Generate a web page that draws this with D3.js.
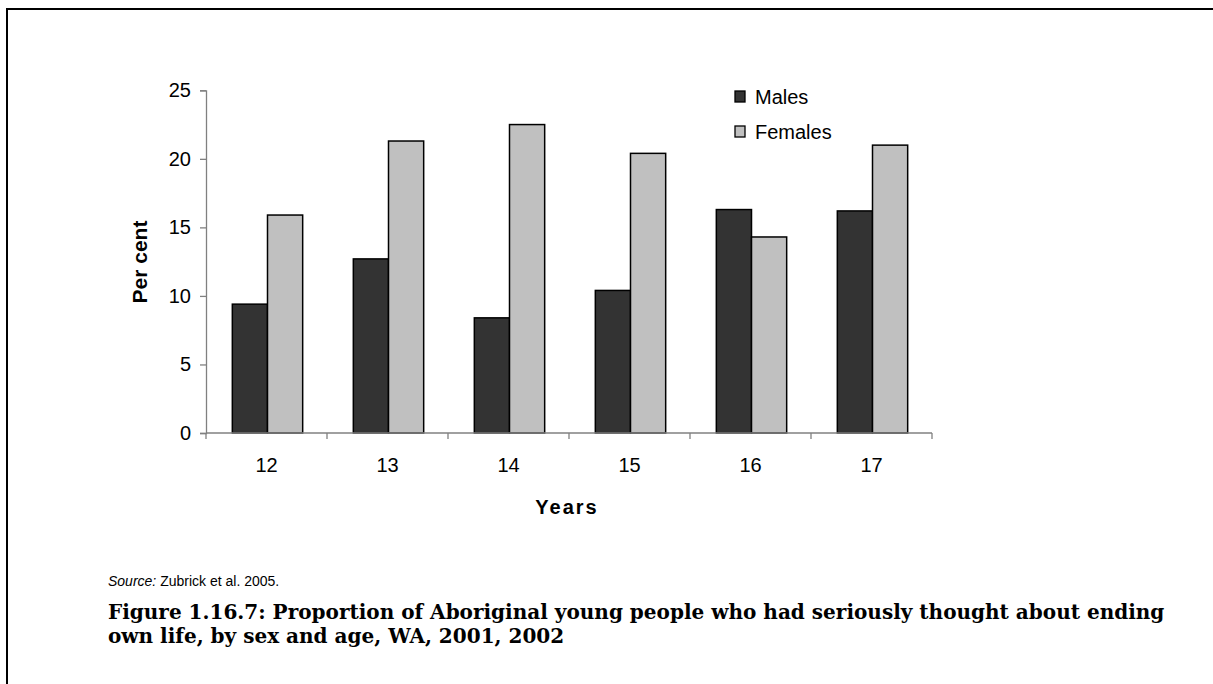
<!DOCTYPE html>
<html>
<head>
<meta charset="utf-8">
<script src="https://cdn.jsdelivr.net/npm/d3@7"></script>
<style>
  html, body { margin: 0; padding: 0; background: #fff; }
  svg { display: block; }
</style>
</head>
<body>
<svg id="chart" width="1213" height="684"></svg>
<script>
// Age groups and percentages by sex
const ages = ["12", "13", "14", "15", "16", "17"];
const males = [9.4, 12.7, 8.4, 10.4, 16.3, 16.2];
const females = [15.9, 21.3, 22.5, 20.4, 14.3, 21.0];
const seriesNames = ["Males", "Females"];
const seriesColors = ["#333333", "#c0c0c0"];
const yTicks = [0, 5, 10, 15, 20, 25];

const svg = d3.select("#chart");
const W = 1213, H = 684;

// Page frame (top and left rules)
svg.append("line").attr("x1", 6).attr("x2", W).attr("y1", 9).attr("y2", 9)
  .attr("stroke", "#000").attr("stroke-width", 2);
svg.append("line").attr("x1", 7).attr("x2", 7).attr("y1", 8).attr("y2", H)
  .attr("stroke", "#000").attr("stroke-width", 2);

const plot = { left: 206, right: 932, top: 90.3, bottom: 433 };

const x = d3.scaleBand().domain(ages).range([plot.left, plot.right]).paddingInner(0).paddingOuter(0);
const xInner = d3.scaleBand().domain(seriesNames).range([0, x.bandwidth()]).paddingInner(0).paddingOuter(0.72);
const y = d3.scaleLinear().domain([0, 25]).range([plot.bottom, plot.top]);

const axisColor = "#808080";
const font = "'Liberation Sans', Arial, sans-serif";

// Y axis
const yAxis = svg.append("g").attr("transform", `translate(${plot.left},0)`)
  .call(d3.axisLeft(y).tickValues(yTicks).tickSize(6).tickPadding(9));
yAxis.select(".domain").attr("stroke", axisColor).attr("stroke-width", 1.3);
yAxis.selectAll(".tick line").attr("stroke", axisColor).attr("stroke-width", 1.3);
yAxis.selectAll(".tick text").attr("font-family", font).attr("font-size", 20).attr("fill", "#000");

// Bars
const data = ages.map((a, i) => ({ age: a, values: [males[i], females[i]] }));
const groups = svg.append("g").selectAll("g").data(data).join("g")
  .attr("transform", d => `translate(${x(d.age) + 1},0)`);
groups.selectAll("rect").data(d => d.values.map((v, j) => ({ name: seriesNames[j], v, j })))
  .join("rect")
  .attr("x", d => xInner(d.name))
  .attr("width", xInner.bandwidth())
  .attr("y", d => y(d.v))
  .attr("height", d => y(0) - y(d.v))
  .attr("fill", d => seriesColors[d.j])
  .attr("stroke", "#000")
  .attr("stroke-width", 1.5);

// X axis: ticks at category boundaries
const xAxisG = svg.append("g").attr("transform", `translate(0,${plot.bottom})`);
xAxisG.append("line").attr("x1", plot.left).attr("x2", plot.right).attr("y1", 0).attr("y2", 0)
  .attr("stroke", axisColor).attr("stroke-width", 1.3);
const boundaries = ages.map(a => x(a)).concat([plot.right]);
xAxisG.selectAll("line.tk").data(boundaries).join("line").attr("class", "tk")
  .attr("x1", d => d).attr("x2", d => d).attr("y1", 0).attr("y2", 6)
  .attr("stroke", axisColor).attr("stroke-width", 1.3);
xAxisG.selectAll("text").data(ages).join("text")
  .attr("x", d => x(d) + x.bandwidth() / 2)
  .attr("y", 39)
  .attr("text-anchor", "middle")
  .attr("font-family", font).attr("font-size", 20).attr("fill", "#000")
  .text(d => d);

// Axis titles
svg.append("text")
  .attr("transform", `translate(147,262) rotate(-90)`)
  .attr("text-anchor", "middle")
  .attr("font-family", font).attr("font-size", 21).attr("font-weight", "bold")
  .text("Per cent");
svg.append("text")
  .attr("x", 567).attr("y", 514)
  .attr("text-anchor", "middle")
  .attr("font-family", font).attr("font-size", 20).attr("font-weight", "bold")
  .attr("letter-spacing", 2)
  .text("Years");

// Legend
const legend = svg.append("g").attr("transform", "translate(735,91)");
seriesNames.forEach((n, i) => {
  const g = legend.append("g").attr("transform", `translate(0,${i * 35})`);
  g.append("rect").attr("x", 0).attr("y", 0).attr("width", 10).attr("height", 11)
    .attr("fill", seriesColors[i]).attr("stroke", "#000").attr("stroke-width", 1.3);
  g.append("text").attr("x", 20).attr("y", 13)
    .attr("font-family", font).attr("font-size", 20).attr("fill", "#000").text(n);
});

// Source note
const src = svg.append("text").attr("x", 108).attr("y", 586)
  .attr("font-family", font).attr("font-size", 14).attr("fill", "#000");
src.append("tspan").attr("font-style", "italic").text("Source:");
src.append("tspan").text(" Zubrick et al. 2005.");

// Figure caption
const capLines = [
  "Figure 1.16.7: Proportion of Aboriginal young people who had seriously thought about ending",
  "own life, by sex and age, WA, 2001, 2002"
];
const capFont = "'DejaVu Serif', 'Liberation Serif', serif";
const cap = svg.append("g")
  .attr("font-family", capFont).attr("font-weight", "bold");
const line1 = cap.append("text").attr("x", 108).attr("y", 619)
  .attr("font-size", 20).text(capLines[0]);
// Size the caption so the first line spans the text block width
const targetW = 1057;
const w0 = line1.node().getComputedTextLength();
const capSize = 20 * targetW / w0;
line1.attr("font-size", capSize);
cap.append("text").attr("x", 108).attr("y", 643)
  .attr("font-size", capSize).text(capLines[1]);
</script>
</body>
</html>
